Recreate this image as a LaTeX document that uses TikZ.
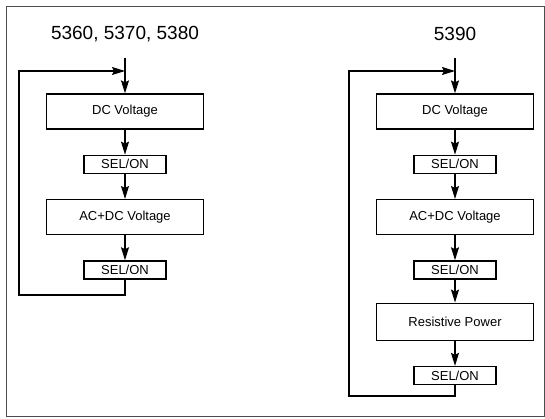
\documentclass[tikz,border=0pt]{standalone}
\usepackage{fontspec}
\setmainfont{Liberation Sans}
\usetikzlibrary{arrows.meta, positioning}

\begin{document}
\begin{tikzpicture}[
    x=1pt, y=-1pt,
    node distance=25pt,
    mode/.style={rectangle, draw, line width=1.3pt, minimum width=157pt, minimum height=35pt, inner sep=0pt, font=\fontsize{13}{15}\selectfont},
    key/.style={rectangle, draw, line width=1.3pt, minimum width=82pt, minimum height=18pt, inner sep=0pt, font=\fontsize{13}{15}\selectfont},
    heading/.style={font=\fontsize{19}{23}\selectfont},
    flow/.style={line width=1.2pt, -{Stealth[length=13pt,width=8pt,inset=2pt]}}
]
\useasboundingbox (0,0) rectangle (545,419);
\draw[line width=0.8pt, black!70] (6,6) rectangle (544,416);

% 5360, 5370, 5380
\node[heading] (headl) at (125,34) {5360, 5370, 5380};
\coordinate (inl) at (125,58);
\coordinate (joinl) at (125,71);
\coordinate (retl) at (19,295);
\node[mode] (dcl) at (125,111.5) {DC Voltage};
\node[key, below=of dcl] (sel1l) {SEL/ON};
\node[mode, below=of sel1l] (acl) {AC+DC Voltage};
\node[key, below=of acl] (sel2l) {SEL/ON};

\draw[flow] (inl) -- (dcl.north);
\draw[flow] (dcl) -- (sel1l);
\draw[flow] (sel1l) -- (acl);
\draw[flow] (acl) -- (sel2l);
\draw[flow] (sel2l.south) |- (retl) |- (joinl);

% 5390
\node[heading] (headr) at (455,34) {5390};
\coordinate (inr) at (455,58);
\coordinate (joinr) at (455,71);
\coordinate (retr) at (349,396);
\node[mode] (dcr) at (455,111.5) {DC Voltage};
\node[key, below=of dcr] (sel1r) {SEL/ON};
\node[mode, below=of sel1r] (acr) {AC+DC Voltage};
\node[key, below=of acr] (sel2r) {SEL/ON};
\node[mode, minimum height=37pt, below=23pt of sel2r] (powr) {Resistive Power};
\node[key, below=of powr] (sel3r) {SEL/ON};

\draw[flow] (inr) -- (dcr.north);
\draw[flow] (dcr) -- (sel1r);
\draw[flow] (sel1r) -- (acr);
\draw[flow] (acr) -- (sel2r);
\draw[flow] (sel2r) -- (powr);
\draw[flow] (powr) -- (sel3r);
\draw[flow] (sel3r.south) |- (retr) |- (joinr);

\end{tikzpicture}
\end{document}
